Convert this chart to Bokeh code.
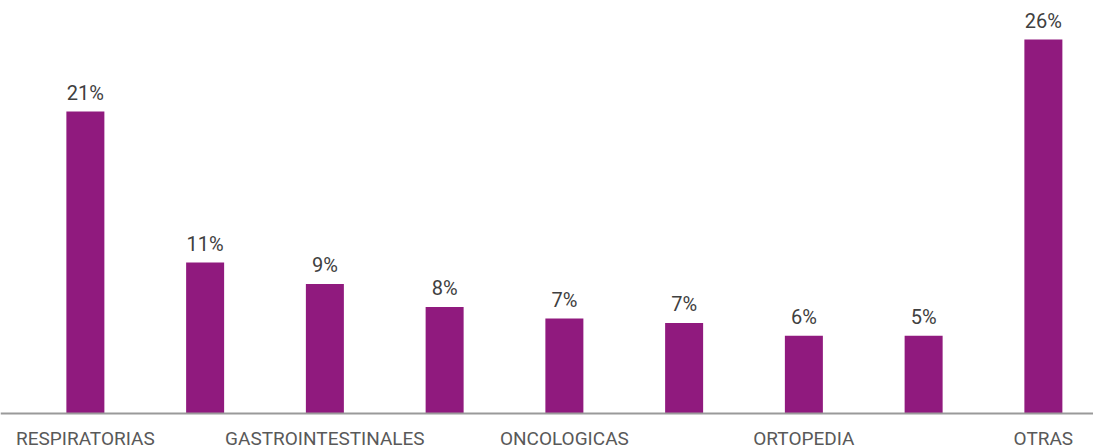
from bokeh.plotting import figure
from bokeh.models import ColumnDataSource, Range1d, Span
from bokeh.core.properties import value
from bokeh.embed import file_html
from bokeh.resources import INLINE

# data
categories = ["RESPIRATORIAS", "", "GASTROINTESTINALES", "", "ONCOLOGICAS", "", "ORTOPEDIA", "", "OTRAS"]
values = [21.0, 10.5, 9.0, 7.4, 6.6, 6.3, 5.4, 5.4, 26.0]
value_labels = ["21%", "11%", "9%", "8%", "7%", "7%", "6%", "5%", "26%"]

band = 119.75          # px per category
unit = 14.38           # px per percentage point
xs = [i + 0.5 for i in range(len(values))]
src = ColumnDataSource(dict(x=xs, top=values, lab=value_labels, cat=categories,
                            base=[0] * len(values)))

x0 = -25 / band
p = figure(width=1093, height=448, output_backend="svg", toolbar_location=None,
           x_range=Range1d(x0, x0 + 1093 / band),
           y_range=Range1d(-35 / unit, 413 / unit),
           min_border_left=0, min_border_right=0, min_border_top=0, min_border_bottom=0)

p.vbar(x="x", top="top", width=38 / band, source=src, color="#901a7e", line_color=None)
p.text(x="x", y="top", text="lab", source=src, text_align="center", text_baseline="bottom",
       y_offset=-7, text_font=value("Roboto"), text_font_size="20px", text_color="#404040")

# category axis: baseline + labels
p.add_layout(Span(location=0, dimension="width", line_color="#9a9a9a", line_width=2))
p.text(x="x", y="base", text="cat", source=src, text_align="center", text_baseline="top",
       y_offset=13, text_font=value("Roboto"), text_font_size="19px", text_color="#595959")

p.xaxis.visible = False
p.yaxis.visible = False
p.xgrid.visible = False
p.ygrid.visible = False
p.outline_line_color = None
p.background_fill_color = "white"
p.border_fill_color = "white"

open("out.html", "w").write(file_html(p, INLINE))
